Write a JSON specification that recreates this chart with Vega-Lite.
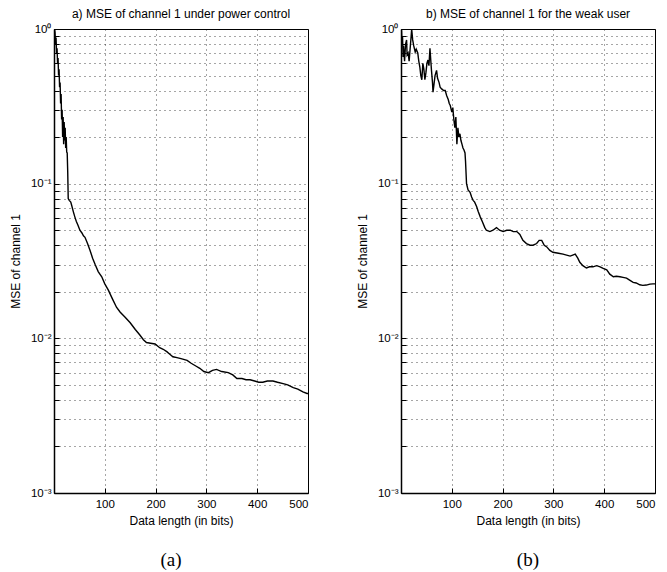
{
  "$schema": "https://vega.github.io/schema/vega-lite/v6.json",
  "padding": {"left": 8, "top": 7, "right": 5, "bottom": 5},
  "background": "white",
  "config": {
    "font": "Liberation Sans",
    "view": {"stroke": "#000", "strokeWidth": 1},
    "concat": {"spacing": 46},
    "axis": {
      "domainColor": "#000", "domainWidth": 1.5,
      "tickColor": "#000", "tickSize": -5, "tickWidth": 1,
      "labelColor": "#000", "labelFontSize": 11.5, "labelFont": "Liberation Sans",
      "titleColor": "#000", "titleFontSize": 12, "titleFontWeight": "normal", "titleFont": "Liberation Sans",
      "grid": true, "gridColor": "#000", "gridDash": [1, 4], "gridOpacity": 0.7, "gridWidth": 1,
      "labelOverlap": false
    }
  },
  "datasets": {
    "a": [
      {"x": 1, "y": 1.0}, {"x": 2, "y": 0.95}, {"x": 3, "y": 0.8}, {"x": 4, "y": 0.88}, {"x": 5, "y": 0.7},
      {"x": 6, "y": 0.75}, {"x": 7, "y": 0.6}, {"x": 8, "y": 0.65}, {"x": 9, "y": 0.5}, {"x": 10, "y": 0.55},
      {"x": 11, "y": 0.42}, {"x": 12, "y": 0.45}, {"x": 13, "y": 0.33}, {"x": 14, "y": 0.38}, {"x": 15, "y": 0.26},
      {"x": 16, "y": 0.3}, {"x": 17, "y": 0.2}, {"x": 18, "y": 0.27}, {"x": 19, "y": 0.18}, {"x": 20, "y": 0.25},
      {"x": 21, "y": 0.19}, {"x": 22, "y": 0.23}, {"x": 23, "y": 0.17}, {"x": 24, "y": 0.2}, {"x": 25, "y": 0.16},
      {"x": 26, "y": 0.158}, {"x": 27, "y": 0.12}, {"x": 28, "y": 0.08}, {"x": 30, "y": 0.078}, {"x": 33, "y": 0.076},
      {"x": 35, "y": 0.072}, {"x": 38, "y": 0.066}, {"x": 41, "y": 0.061}, {"x": 44, "y": 0.057}, {"x": 47, "y": 0.054},
      {"x": 51, "y": 0.05}, {"x": 55, "y": 0.048}, {"x": 58, "y": 0.046}, {"x": 61, "y": 0.045}, {"x": 66, "y": 0.041},
      {"x": 71, "y": 0.037}, {"x": 76, "y": 0.033}, {"x": 81, "y": 0.03}, {"x": 87, "y": 0.027}, {"x": 94, "y": 0.025},
      {"x": 100, "y": 0.0225}, {"x": 107, "y": 0.0205}, {"x": 115, "y": 0.018}, {"x": 123, "y": 0.0159}, {"x": 130, "y": 0.0148},
      {"x": 140, "y": 0.0137}, {"x": 150, "y": 0.0126}, {"x": 160, "y": 0.0114}, {"x": 169, "y": 0.0105}, {"x": 176, "y": 0.0098},
      {"x": 182, "y": 0.0094}, {"x": 190, "y": 0.0093}, {"x": 199, "y": 0.0092}, {"x": 208, "y": 0.0087}, {"x": 215, "y": 0.0085},
      {"x": 222, "y": 0.0082}, {"x": 228, "y": 0.0079}, {"x": 234, "y": 0.0076}, {"x": 242, "y": 0.0075}, {"x": 250, "y": 0.0074},
      {"x": 262, "y": 0.0072}, {"x": 270, "y": 0.0069}, {"x": 280, "y": 0.0066}, {"x": 287, "y": 0.0064}, {"x": 295, "y": 0.0061},
      {"x": 304, "y": 0.006}, {"x": 312, "y": 0.0062}, {"x": 320, "y": 0.0063}, {"x": 330, "y": 0.0061}, {"x": 343, "y": 0.006},
      {"x": 352, "y": 0.0058}, {"x": 360, "y": 0.0055}, {"x": 370, "y": 0.0055}, {"x": 378, "y": 0.0054}, {"x": 386, "y": 0.0054},
      {"x": 395, "y": 0.0053}, {"x": 403, "y": 0.0052}, {"x": 411, "y": 0.0052}, {"x": 420, "y": 0.0053}, {"x": 431, "y": 0.0053},
      {"x": 440, "y": 0.0052}, {"x": 451, "y": 0.0051}, {"x": 460, "y": 0.005}, {"x": 471, "y": 0.0048}, {"x": 480, "y": 0.0047},
      {"x": 490, "y": 0.0045}, {"x": 498, "y": 0.0044}, {"x": 500, "y": 0.0044}
    ],
    "b": [
      {"x": 1, "y": 0.98}, {"x": 2, "y": 0.8}, {"x": 3, "y": 0.9}, {"x": 4, "y": 0.66}, {"x": 5, "y": 0.78},
      {"x": 7, "y": 0.62}, {"x": 9, "y": 0.8}, {"x": 11, "y": 0.85}, {"x": 12, "y": 0.68}, {"x": 14, "y": 0.7},
      {"x": 16, "y": 0.62}, {"x": 18, "y": 0.75}, {"x": 20, "y": 0.9}, {"x": 21, "y": 1.0}, {"x": 23, "y": 0.85},
      {"x": 25, "y": 0.78}, {"x": 28, "y": 0.71}, {"x": 30, "y": 0.74}, {"x": 33, "y": 0.7}, {"x": 35, "y": 0.62},
      {"x": 37, "y": 0.57}, {"x": 39, "y": 0.5}, {"x": 41, "y": 0.47}, {"x": 43, "y": 0.6}, {"x": 45, "y": 0.55},
      {"x": 47, "y": 0.47}, {"x": 49, "y": 0.52}, {"x": 51, "y": 0.6}, {"x": 53, "y": 0.63}, {"x": 55, "y": 0.58},
      {"x": 57, "y": 0.75}, {"x": 59, "y": 0.6}, {"x": 60, "y": 0.54}, {"x": 62, "y": 0.45}, {"x": 63, "y": 0.39},
      {"x": 65, "y": 0.44}, {"x": 67, "y": 0.5}, {"x": 70, "y": 0.54}, {"x": 72, "y": 0.48}, {"x": 75, "y": 0.45},
      {"x": 77, "y": 0.42}, {"x": 80, "y": 0.41}, {"x": 84, "y": 0.4}, {"x": 87, "y": 0.4}, {"x": 90, "y": 0.37},
      {"x": 93, "y": 0.35}, {"x": 95, "y": 0.33}, {"x": 97, "y": 0.32}, {"x": 100, "y": 0.29}, {"x": 102, "y": 0.31},
      {"x": 104, "y": 0.26}, {"x": 106, "y": 0.23}, {"x": 108, "y": 0.27}, {"x": 110, "y": 0.18}, {"x": 112, "y": 0.23},
      {"x": 114, "y": 0.2}, {"x": 116, "y": 0.21}, {"x": 118, "y": 0.19}, {"x": 120, "y": 0.18}, {"x": 122, "y": 0.17},
      {"x": 124, "y": 0.165}, {"x": 126, "y": 0.158}, {"x": 127, "y": 0.14}, {"x": 129, "y": 0.1}, {"x": 132, "y": 0.091},
      {"x": 136, "y": 0.088}, {"x": 139, "y": 0.082}, {"x": 142, "y": 0.078}, {"x": 145, "y": 0.076}, {"x": 149, "y": 0.071},
      {"x": 152, "y": 0.066}, {"x": 156, "y": 0.061}, {"x": 160, "y": 0.057}, {"x": 165, "y": 0.052}, {"x": 168, "y": 0.05},
      {"x": 175, "y": 0.049}, {"x": 181, "y": 0.05}, {"x": 188, "y": 0.052}, {"x": 194, "y": 0.05}, {"x": 201, "y": 0.049},
      {"x": 208, "y": 0.05}, {"x": 215, "y": 0.05}, {"x": 221, "y": 0.049}, {"x": 228, "y": 0.049}, {"x": 234, "y": 0.047},
      {"x": 240, "y": 0.043}, {"x": 247, "y": 0.041}, {"x": 254, "y": 0.04}, {"x": 260, "y": 0.04}, {"x": 267, "y": 0.041},
      {"x": 272, "y": 0.043}, {"x": 277, "y": 0.043}, {"x": 282, "y": 0.04}, {"x": 287, "y": 0.039}, {"x": 293, "y": 0.037},
      {"x": 299, "y": 0.036}, {"x": 310, "y": 0.0355}, {"x": 319, "y": 0.035}, {"x": 326, "y": 0.0345}, {"x": 333, "y": 0.034},
      {"x": 338, "y": 0.0345}, {"x": 343, "y": 0.035}, {"x": 348, "y": 0.033}, {"x": 352, "y": 0.031}, {"x": 358, "y": 0.0295},
      {"x": 365, "y": 0.0285}, {"x": 371, "y": 0.029}, {"x": 378, "y": 0.029}, {"x": 385, "y": 0.0295}, {"x": 392, "y": 0.029},
      {"x": 398, "y": 0.0283}, {"x": 405, "y": 0.0277}, {"x": 411, "y": 0.026}, {"x": 418, "y": 0.025}, {"x": 424, "y": 0.0252},
      {"x": 431, "y": 0.025}, {"x": 437, "y": 0.0248}, {"x": 444, "y": 0.0245}, {"x": 450, "y": 0.0238}, {"x": 457, "y": 0.023},
      {"x": 463, "y": 0.0228}, {"x": 470, "y": 0.0222}, {"x": 476, "y": 0.022}, {"x": 483, "y": 0.0221}, {"x": 490, "y": 0.0224},
      {"x": 496, "y": 0.0225}, {"x": 500, "y": 0.0225}
    ]
  },
  "hconcat": [
    {
      "title": {"text": "(a)", "orient": "bottom", "font": "Liberation Serif", "fontSize": 19, "fontWeight": "normal", "color": "#000", "anchor": "middle", "offset": 24, "dx": 12},
      "vconcat": [
        {
          "width": 254, "height": 464,
          "title": {"text": "a) MSE of channel 1 under power control", "frame": "group", "anchor": "middle", "fontSize": 12, "fontWeight": "normal", "color": "#000", "offset": 2},
          "data": {"name": "a"},
          "mark": {"type": "line", "color": "#000", "strokeWidth": 1.4, "clip": true},
          "encoding": {
            "x": {"field": "x", "type": "quantitative", "scale": {"domain": [0, 500], "nice": false},
              "axis": {"title": "Data length (in bits)", "values": [100, 200, 300, 400, 500], "labelPadding": 10, "titlePadding": 6}},
            "y": {"field": "y", "type": "quantitative", "scale": {"type": "log", "domain": [0.001, 1], "nice": false},
              "axis": {"title": "MSE of channel 1", "titlePadding": 8, "labelPadding": 8,
                "values": [0.001, 0.002, 0.003, 0.004, 0.005, 0.006, 0.007, 0.008, 0.009, 0.01, 0.02, 0.03, 0.04, 0.05, 0.06, 0.07, 0.08, 0.09, 0.1, 0.2, 0.3, 0.4, 0.5, 0.6, 0.7, 0.8, 0.9, 1],
                "labelExpr": "datum.value == 1 ? '10⁰' : datum.value == 0.1 ? '10⁻¹' : datum.value == 0.01 ? '10⁻²' : datum.value == 0.001 ? '10⁻³' : ''"}}
          }
        }
      ]
    },
    {
      "title": {"text": "(b)", "orient": "bottom", "font": "Liberation Serif", "fontSize": 19, "fontWeight": "normal", "color": "#000", "anchor": "middle", "offset": 24, "dx": 22},
      "vconcat": [
        {
          "width": 254, "height": 464,
          "title": {"text": "b) MSE of channel 1 for the weak user", "frame": "group", "anchor": "middle", "fontSize": 12, "fontWeight": "normal", "color": "#000", "offset": 2},
          "data": {"name": "b"},
          "mark": {"type": "line", "color": "#000", "strokeWidth": 1.4, "clip": true},
          "encoding": {
            "x": {"field": "x", "type": "quantitative", "scale": {"domain": [0, 500], "nice": false},
              "axis": {"title": "Data length (in bits)", "values": [100, 200, 300, 400, 500], "labelPadding": 10, "titlePadding": 6}},
            "y": {"field": "y", "type": "quantitative", "scale": {"type": "log", "domain": [0.001, 1], "nice": false},
              "axis": {"title": "MSE of channel 1", "titlePadding": 8, "labelPadding": 8,
                "values": [0.001, 0.002, 0.003, 0.004, 0.005, 0.006, 0.007, 0.008, 0.009, 0.01, 0.02, 0.03, 0.04, 0.05, 0.06, 0.07, 0.08, 0.09, 0.1, 0.2, 0.3, 0.4, 0.5, 0.6, 0.7, 0.8, 0.9, 1],
                "labelExpr": "datum.value == 1 ? '10⁰' : datum.value == 0.1 ? '10⁻¹' : datum.value == 0.01 ? '10⁻²' : datum.value == 0.001 ? '10⁻³' : ''"}}
          }
        }
      ]
    }
  ]
}
